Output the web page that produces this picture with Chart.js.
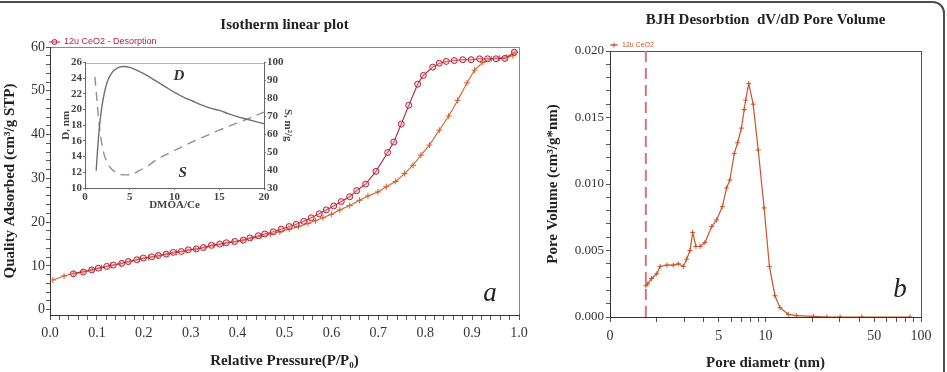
<!DOCTYPE html>
<html>
<head>
<meta charset="utf-8">
<script src="https://cdn.jsdelivr.net/npm/chart.js@4.4.1/dist/chart.umd.min.js"></script>
<style>
  html, body { margin: 0; padding: 0; background: #fff; }
  #wrap { position: relative; width: 947px; height: 372px; overflow: hidden; }
  #frame { position: absolute; left: -20px; top: 1px; width: 965px; height: 430px; border: 2px solid #4d4d4d; border-radius: 12px; box-sizing: border-box; }
  canvas { position: absolute; }
  #iso { left: 0; top: 0; }
  #inset { left: 40px; top: 55px; }
  #bjh { left: 535px; top: 0; }
  .tag { position: absolute; font: italic 27px "Liberation Serif", serif; color: #222; line-height: 1; transform: translate(-50%, -50%); }
</style>
</head>
<body>
<div id="wrap">
  <div id="frame"></div>
  <canvas id="iso" width="560" height="372"></canvas>
  <canvas id="bjh" width="412" height="372"></canvas>
  <canvas id="inset" width="254" height="157"></canvas>
  <div class="tag" style="left:490px; top:292px;">a</div>
  <div class="tag" style="left:900px; top:288px;">b</div>
</div>
<script>
// ---- isotherm, desorption branch (circles)
const desP = [0.050,0.071,0.089,0.103,0.121,0.135,0.153,0.167,0.185,0.199,
  0.217,0.231,0.248,0.263,0.280,0.295,0.312,0.327,0.344,0.362,
  0.376,0.394,0.412,0.426,0.444,0.458,0.476,0.493,0.510,0.525,
  0.541,0.557,0.574,0.589,0.605,0.621,0.639,0.654,0.673,0.695,
  0.720,0.733,0.749,0.765,0.784,0.796,0.816,0.830,0.845,0.862,
  0.880,0.898,0.916,0.933,0.951,0.970,0.990];
const desQ = [8.2,8.6,9.1,9.5,9.9,10.2,10.6,11.0,11.4,11.8,
  12.1,12.4,12.7,13.1,13.3,13.7,13.9,14.2,14.7,15.0,
  15.3,15.6,15.9,16.4,16.9,17.3,17.8,18.4,19.0,19.5,
  20.2,21.0,21.9,22.8,23.7,24.7,25.8,27.2,28.7,31.6,
  35.9,38.3,42.4,46.7,51.5,53.5,55.4,56.3,56.7,56.9,
  57.1,57.1,57.3,57.3,57.3,57.4,58.8];

// ---- isotherm, adsorption branch (crosses)
const adsP = [0.006,0.030,0.050,0.070,0.090,0.110,0.130,0.150,0.170,0.190,
  0.210,0.230,0.250,0.270,0.290,0.310,0.330,0.350,0.370,0.390,
  0.410,0.430,0.450,0.470,0.490,0.510,0.530,0.550,0.566,0.582,
  0.600,0.618,0.639,0.660,0.678,0.699,0.717,0.737,0.756,0.774,
  0.791,0.809,0.830,0.850,0.869,0.889,0.905,0.923,0.941,0.958,
  0.974,0.987,0.992];
const adsQ = [6.8,7.7,8.3,8.7,9.1,9.6,10.1,10.5,11.0,11.5,
  11.9,12.3,12.7,13.1,13.5,13.8,14.2,14.7,15.1,15.5,
  15.8,16.3,16.8,17.3,17.8,18.4,19.0,19.7,20.3,21.0,
  21.8,22.8,23.8,25.0,26.0,26.9,28.1,29.3,31.1,33.0,
  35.3,37.6,41.0,44.2,47.8,51.8,54.7,56.5,57.3,57.5,
  57.7,58.0,58.8];

// ---- inset: pore size D and surface S against DMOA/Ce
const insetDx = [1.25,1.4,1.6,1.8,2.1,2.5,3,3.6,4.3,5,6,7,8,9,10,11,12,13,14,15,16,17,18,19,20];
const insetD  = [12.2,14.8,17.6,19.7,21.8,23.6,24.7,25.3,25.5,25.4,24.9,24.3,23.6,22.9,22.2,21.6,21.1,20.6,20.2,19.9,19.5,19.1,18.8,18.5,18.2];
const insetSx = [1.1,1.25,1.4,1.65,2,2.5,3,3.6,4.4,5.3,6,7,8,9,10,11,12,13,14,15,16,17,18,19,20];
const insetS  = [92,84,75,62.5,51.5,44,40.5,38.3,37.3,37.8,39.5,42.3,45.8,48.5,51,53.4,55.8,58,60.2,62.3,64.3,66.3,68.2,70.3,72.4];

// ---- BJH desorption dV/dD
const poreD = [1.70,1.75,1.85,2.0,2.1,2.32,2.55,2.75,2.96,3.11,3.27,3.40,3.57,3.79,4.08,4.51,4.85,5.28,5.62,5.9,
  6.3,6.62,7.0,7.3,7.45,7.8,8.33,8.98,9.8,10.6,11.5,12.4,14.0,15.8,20.3,24.8,30.2,41.6,85];
const poreV = [0.00235,0.0025,0.0029,0.00325,0.0038,0.0039,0.0039,0.0040,0.0038,0.00435,0.0050,0.00635,0.0053,0.0053,0.0056,0.0068,0.0073,0.0083,0.0097,0.0103,
  0.0123,0.0131,0.0142,0.0156,0.0163,0.01755,0.0160,0.01255,0.0082,0.0038,0.0016,0.0007,0.0002,0.0001,0.00005,0,0,0,0];
const cutoffD = 1.7;

// tick labels
const isoXLabels = [0,0.1,0.2,0.3,0.4,0.5,0.6,0.7,0.8,0.9,1.0];
const isoYLabels = [0,10,20,30,40,50,60];
const bjhYLabels = [0,0.005,0.010,0.015,0.020];
const bjhXTicks = [1,2,3,4,5,6,7,8,9,10,20,30,40,50,60,70,80,90,100];
const bjhXLabelAt = [1,5,10,50,100];
const bjhXLabelText = ['0','5','10','50','100'];

const pts = (xs, ys) => xs.map((x, i) => ({ x: x, y: ys[i] }));
const steps = (from, to, step) => {
  const out = [];
  for (let i = 0; from + i * step <= to + step / 2; i++) out.push(+(from + i * step).toFixed(4));
  return out;
};
const isMajor = (v, majors) => majors.some(m => Math.abs(m - v) < 1e-9);

Chart.defaults.font.family = '"Liberation Serif", "Times New Roman", serif';
Chart.defaults.color = '#2b2b2b';

// grey frame round the plotting area
const plotBox = {
  id: 'plotBox',
  beforeDraw(chart, args, o) {
    const { ctx, chartArea: a } = chart;
    ctx.save();
    ctx.strokeStyle = o.color || '#8c8c8c';
    ctx.lineWidth = 1;
    ctx.strokeRect(Math.round(a.left) + 0.5, Math.round(a.top) + 0.5, Math.round(a.width), Math.round(a.height));
    ctx.restore();
  }
};

// tiny series key sitting above the top-left corner of the plot
const cornerKey = {
  id: 'cornerKey',
  afterDraw(chart, args, o) {
    const { ctx, chartArea: a } = chart;
    const x0 = a.left + o.dx, y = a.top + o.dy;
    ctx.save();
    ctx.strokeStyle = o.color;
    ctx.fillStyle = o.fill;
    ctx.lineWidth = 1;
    ctx.beginPath(); ctx.moveTo(x0, y); ctx.lineTo(x0 + o.len, y); ctx.stroke();
    Chart.helpers.drawPoint(ctx, { pointStyle: o.marker, radius: o.radius, borderWidth: 1, rotation: 0 }, x0 + o.len / 2, y);
    ctx.fillStyle = o.color;
    ctx.font = o.font;
    ctx.textBaseline = 'middle';
    ctx.fillText(o.text, x0 + o.len + 4, y);
    ctx.restore();
  }
};

const desColor = '#b3263a';
const adsColor = '#d4602a';

new Chart(document.getElementById('iso'), {
  type: 'scatter',
  data: {
    datasets: [
      {
        label: '12u CeO2 - Desorption',
        data: pts(desP, desQ),
        showLine: true,
        borderColor: desColor,
        borderWidth: 1.1,
        pointStyle: 'circle',
        pointRadius: 3,
        pointBorderWidth: 1,
        pointBorderColor: desColor,
        pointBackgroundColor: 'rgba(236,170,178,0.45)'
      },
      {
        label: '12u CeO2 - Adsorption',
        data: pts(adsP, adsQ),
        showLine: true,
        borderColor: adsColor,
        borderWidth: 1.1,
        pointStyle: 'cross',
        pointRadius: 3,
        pointBorderWidth: 1,
        pointBorderColor: adsColor
      }
    ]
  },
  plugins: [plotBox, cornerKey],
  options: {
    responsive: false,
    animation: false,
    layout: { padding: { left: 0, right: 41, top: 0, bottom: 0 } },
    plugins: {
      legend: { display: false },
      tooltip: { enabled: false },
      title: {
        display: true,
        text: 'Isotherm linear plot',
        fullSize: false,
        color: '#222',
        font: { size: 15, weight: 'bold' },
        padding: { top: 16, bottom: 13 }
      },
      plotBox: { color: '#8a8a8a' },
      cornerKey: { text: '12u CeO2 - Desorption', color: desColor, fill: 'rgba(236,170,178,0.55)', marker: 'circle', radius: 2.5,
        len: 11, dx: -1, dy: -5, font: '9px "Liberation Sans", Arial, sans-serif' }
    },
    scales: {
      x: {
        type: 'linear',
        min: 0, max: 1,
        afterFit: s => { s.height = 57; },
        afterBuildTicks: s => { s.ticks = steps(0, 1, 0.02).map(v => ({ value: v })); },
        ticks: {
          autoSkip: false, maxRotation: 0, padding: 5,
          font: { size: 14 }, color: '#333',
          callback: v => isMajor(v, isoXLabels) ? v.toFixed(1) : ''
        },
        grid: { drawOnChartArea: false, tickLength: 5, color: '#555' },
        border: { color: '#333', width: 1 },
        title: { display: true, text: 'Relative Pressure(P/P₀)', color: '#222', font: { size: 15, weight: 'bold' }, padding: { bottom: 2 } }
      },
      y: {
        min: -1.2, max: 60,
        afterFit: s => { s.width = 50; },
        afterBuildTicks: s => { s.ticks = steps(0, 60, 2).map(v => ({ value: v })); },
        ticks: {
          autoSkip: false, padding: 1,
          font: { size: 14 }, color: '#333',
          callback: v => isMajor(v, isoYLabels) ? String(v) : ''
        },
        grid: { drawOnChartArea: false, tickLength: 4, color: '#555' },
        border: { color: '#333', width: 1 },
        title: { display: true, text: 'Quality Adsorbed (cm³/g STP)', color: '#222', font: { size: 15, weight: 'bold' }, padding: { top: 1 } }
      }
    }
  }
});

// italic D / S markers inside the inset
const insetNames = ['D', 'S'];
const insetNameAt = [[10.5, 24.3], [10.9, 11.9]];
const insetNotes = {
  id: 'insetNotes',
  afterDatasetsDraw(chart) {
    const { ctx, scales } = chart;
    ctx.save();
    ctx.fillStyle = '#333';
    ctx.font = 'italic bold 15px "Liberation Serif", serif';
    ctx.textAlign = 'center';
    ctx.textBaseline = 'middle';
    insetNames.forEach((t, i) => {
      ctx.fillText(t, scales.x.getPixelForValue(insetNameAt[i][0]), scales.yD.getPixelForValue(insetNameAt[i][1]));
    });
    ctx.restore();
  }
};

new Chart(document.getElementById('inset'), {
  type: 'scatter',
  data: {
    datasets: [
      {
        label: 'D',
        data: pts(insetDx, insetD),
        yAxisID: 'yD',
        showLine: true,
        cubicInterpolationMode: 'monotone',
        borderColor: '#707070',
        borderWidth: 1.4,
        pointRadius: 0
      },
      {
        label: 'S',
        data: pts(insetSx, insetS),
        yAxisID: 'yS',
        showLine: true,
        cubicInterpolationMode: 'monotone',
        borderColor: '#909090',
        borderDash: [9, 6],
        borderWidth: 1.4,
        pointRadius: 0
      }
    ]
  },
  plugins: [plotBox, insetNotes],
  options: {
    responsive: false,
    animation: false,
    layout: { padding: { left: 0, right: 0, top: 6, bottom: 0 } },
    plugins: {
      legend: { display: false },
      tooltip: { enabled: false },
      plotBox: { color: '#b5b5b5' }
    },
    scales: {
      x: {
        type: 'linear',
        min: 0, max: 20,
        afterFit: s => { s.height = 24; },
        ticks: { stepSize: 5, autoSkip: false, padding: 1, maxRotation: 0, font: { size: 11, weight: 'bold' }, color: '#444' },
        grid: { drawOnChartArea: false, tickLength: 2, color: '#777' },
        border: { color: '#666' },
        title: { display: true, text: 'DMOA/Ce', color: '#444', font: { size: 11, weight: 'bold' }, padding: { top: 0, bottom: 0 } }
      },
      yD: {
        position: 'left',
        min: 10, max: 26,
        afterFit: s => { s.width = 45; },
        ticks: { stepSize: 2, autoSkip: false, padding: 1, font: { size: 11, weight: 'bold' }, color: '#444' },
        grid: { drawOnChartArea: false, tickLength: 2, color: '#777' },
        border: { color: '#666' },
        title: { display: true, text: 'D, nm', color: '#444', font: { size: 11, weight: 'bold' }, padding: { top: 20 } }
      },
      yS: {
        position: 'right',
        min: 30, max: 100,
        afterFit: s => { s.width = 30; },
        ticks: { stepSize: 10, autoSkip: false, padding: 1, font: { size: 11, weight: 'bold' }, color: '#444' },
        grid: { drawOnChartArea: false, tickLength: 2, color: '#777' },
        border: { color: '#666' },
        title: { display: true, text: 'S, m²/g', color: '#444', font: { size: 11, weight: 'bold' }, padding: { top: 0 } }
      }
    }
  }
});

const bjhColor = '#c8552c';

new Chart(document.getElementById('bjh'), {
  type: 'scatter',
  data: {
    datasets: [
      {
        label: '12u CeO2',
        data: pts(poreD, poreV),
        showLine: true,
        borderColor: bjhColor,
        borderWidth: 1.2,
        pointStyle: 'cross',
        pointRadius: 2.5,
        pointBorderWidth: 1,
        pointBorderColor: bjhColor
      },
      {
        label: 'cut-off',
        data: [{ x: cutoffD, y: 0 }, { x: cutoffD, y: 0.02 }],
        showLine: true,
        borderColor: '#d8747e',
        borderDash: [11, 6],
        borderWidth: 2,
        pointRadius: 0
      }
    ]
  },
  plugins: [plotBox, cornerKey],
  options: {
    responsive: false,
    animation: false,
    layout: { padding: { left: 0, right: 26, top: 0, bottom: 0 } },
    plugins: {
      legend: { display: false },
      tooltip: { enabled: false },
      title: {
        display: true,
        text: 'BJH Desorbtion  dV/dD Pore Volume',
        fullSize: false,
        color: '#222',
        font: { size: 15, weight: 'bold' },
        padding: { top: 11, bottom: 22 }
      },
      plotBox: { color: '#555' },
      cornerKey: { text: '12u CeO2', color: bjhColor, fill: bjhColor, marker: 'cross', radius: 2.5,
        len: 8, dx: 0, dy: -6, font: '7px "Liberation Sans", Arial, sans-serif' }
    },
    scales: {
      x: {
        type: 'logarithmic',
        min: 1, max: 100,
        afterFit: s => { s.height = 55; },
        afterBuildTicks: s => { s.ticks = bjhXTicks.map(v => ({ value: v })); },
        ticks: {
          autoSkip: false, maxRotation: 0, padding: 6,
          font: { size: 14 }, color: '#333',
          callback: v => { const k = bjhXLabelAt.indexOf(v); return k >= 0 ? bjhXLabelText[k] : ''; }
        },
        grid: { drawOnChartArea: false, tickLength: 5, color: '#555' },
        border: { color: '#333', width: 1 },
        title: { display: true, text: 'Pore diametr (nm)', color: '#222', font: { size: 15, weight: 'bold' }, padding: { bottom: 0 } }
      },
      y: {
        min: 0, max: 0.02,
        afterFit: s => { s.width = 75; },
        afterBuildTicks: s => { s.ticks = steps(0, 0.02, 0.001).map(v => ({ value: v })); },
        ticks: {
          autoSkip: false, padding: 2,
          font: { size: 13 }, color: '#333',
          callback: v => isMajor(v, bjhYLabels) ? v.toFixed(3) : ''
        },
        grid: { drawOnChartArea: false, tickLength: 4, color: '#555' },
        border: { color: '#333', width: 1 },
        title: { display: true, text: 'Pore Volume (cm³/g*nm)', color: '#222', font: { size: 15, weight: 'bold' }, padding: { top: 9 } }
      }
    }
  }
});
</script>
</body>
</html>
